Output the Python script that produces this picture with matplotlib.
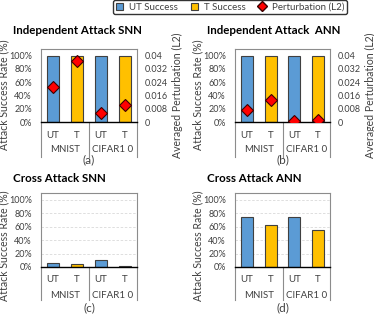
import numpy as np
import matplotlib.pyplot as plt
from matplotlib.patches import Patch
from matplotlib.lines import Line2D

plt.rcParams['font.family'] = ['Lato', 'DejaVu Sans']

# data
datasets = ['MNIST', 'CIFAR1 0']
attacks = ['UT', 'T', 'UT', 'T']
snn_indep = [1.0, 1.0, 1.0, 1.0]
snn_pert = [0.021, 0.037, 0.0055, 0.0105]
ann_indep = [1.0, 1.0, 1.0, 1.0]
ann_pert = [0.0075, 0.013, 0.0005, 0.001]
snn_cross = [0.06, 0.05, 0.11, 0.015]
ann_cross = [0.75, 0.62, 0.74, 0.55]

blue = '#5B9BD5'
yellow = '#FFC000'
red = '#FF0000'
frame = '#8C8C8C'
txt = '#404040'

W, H = 374, 315
fig = plt.figure(figsize=(W / 100, H / 100), dpi=100)


def panel(x0, x1, ytop, y0, ybot, title, ty, label, ly, ylab_y, vals,
          pert=None, grid=False):
    ax = fig.add_axes([x0 / W, (H - y0) / H, (x1 - x0) / W, (y0 - ytop) / H])
    x = np.arange(4)
    if grid:
        for g in [0.2, 0.4, 0.6, 0.8, 1.0]:
            ax.axhline(g, color='#D9D9D9', lw=0.6, ls=(0, (3, 2)), zorder=0)
    ax.bar(x, vals, 0.5, color=[blue, yellow, blue, yellow],
           edgecolor='#404040', linewidth=0.8, zorder=2)
    ax.set_xlim(-0.5, 3.5)
    ax.set_ylim(0, 1.1)
    ax.set_yticks([0, 0.2, 0.4, 0.6, 0.8, 1.0])
    ax.set_yticklabels(['0%', '20%', '40%', '60%', '80%', '100%'])
    ax.set_xticks([])
    ax.tick_params(length=0, labelsize=6.5, pad=6.5, labelcolor=txt)
    for s in ['top', 'left', 'right']:
        ax.spines[s].set_color(frame)
        ax.spines[s].set_linewidth(0.8)
    ax.spines['bottom'].set_color('black')
    ax.spines['bottom'].set_linewidth(1.0)
    ax.spines['bottom'].set_zorder(3)

    # category area below the axis
    ext = (ybot - y0) / (y0 - ytop)
    for xx in [0, 0.5, 1]:
        ax.plot([xx, xx], [0, -ext], transform=ax.transAxes, color=frame,
                lw=0.8, clip_on=False)
    for i, a in enumerate(attacks):
        ax.annotate(a, (i, 0), xycoords=('data', 'axes fraction'),
                    xytext=(0, -13), textcoords='offset pixels',
                    ha='center', va='center', fontsize=7, color=txt)
    for i, d in enumerate(datasets):
        ax.annotate(d, (0.5 + 2 * i, 0), xycoords=('data', 'axes fraction'),
                    xytext=(0, -28), textcoords='offset pixels',
                    ha='center', va='center', fontsize=7, color=txt)

    fig.text((x0 - 28) / W, (H - ty) / H, title, fontsize=8.3,
             fontweight='bold', ha='left', va='center', color='black')
    fig.text((x0 - 37) / W, (H - ylab_y) / H,
             'Attack Success Rate (%)', rotation=90, fontsize=7.6,
             ha='center', va='center', color=txt)
    fig.text((x0 + x1) / 2 / W, (H - ly) / H, label, fontsize=8.5,
             ha='center', va='center', color=txt)

    if pert is not None:
        ax2 = ax.twinx()
        ax2.plot(x, pert, 'D', color=red, markeredgecolor='#3A0000',
                 markeredgewidth=0.8, markersize=6, zorder=4)
        ax2.set_ylim(0, 0.044)
        ax2.set_yticks([0, 0.008, 0.016, 0.024, 0.032, 0.04])
        ax2.set_yticklabels(['0', '0.008', '0.016', '0.024', '0.032', '0.04'])
        ax2.tick_params(length=0, labelsize=6.5, pad=5.5, labelcolor=txt)
        for s in ax2.spines.values():
            s.set_visible(False)
        fig.text((x1 + 40) / W, (H - ylab_y) / H,
                 'Averaged Perturbation (L2)', rotation=90, fontsize=7.6,
                 ha='center', va='center', color=txt)
    return ax


panel(41, 137, 49, 122, 157, 'Independent Attack SNN', 31, '(a)', 160, 95,
      snn_indep, snn_pert)
panel(235, 330, 49, 122, 157, 'Independent Attack  ANN', 31, '(b)', 160, 95,
      ann_indep, ann_pert)
panel(41, 137, 193, 267, 300, 'Cross Attack SNN', 179, '(c)', 308, 246,
      snn_cross, grid=True)
panel(235, 330, 193, 267, 300, 'Cross Attack ANN', 179, '(d)', 308, 246,
      ann_cross, grid=True)

handles = [Patch(facecolor=blue, edgecolor='#404040', lw=0.8),
           Patch(facecolor=yellow, edgecolor='#404040', lw=0.8),
           Line2D([], [], marker='D', ls='', color=red,
                  markeredgecolor='#3A0000', markersize=5)]
fig.legend(handles, ['UT Success', 'T Success', 'Perturbation (L2)'],
           loc='center', bbox_to_anchor=(230 / W, (H - 7) / H), ncol=3,
           fontsize=7, frameon=True, fancybox=True, edgecolor='black',
           handlelength=0.7, handleheight=0.7, columnspacing=1.4,
           handletextpad=0.6, borderpad=0.3, labelcolor=txt)

fig.savefig('out.png', dpi=100)
